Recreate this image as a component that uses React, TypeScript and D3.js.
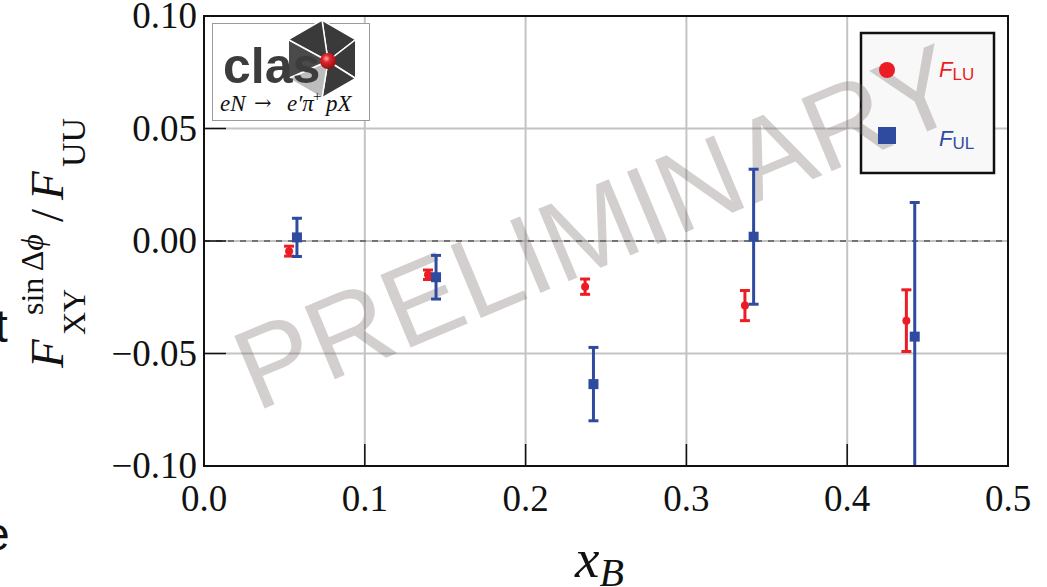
import React from "react";
import * as d3 from "d3";

const xTicks = [0.0, 0.1, 0.2, 0.3, 0.4, 0.5];
const yTicks = [-0.1, -0.05, 0.0, 0.05, 0.1];
const xTickLabels = ["0.0", "0.1", "0.2", "0.3", "0.4", "0.5"];
const yTickLabels = ["\u22120.10", "\u22120.05", "0.00", "0.05", "0.10"];

// F_LU (red circles)
const xLU = [0.0529, 0.1393, 0.237, 0.3364, 0.4368];
const yLU = [-0.0045, -0.015, -0.0203, -0.0287, -0.0354];
const eLU = [0.0022, 0.0021, 0.0034, 0.0067, 0.0137];

// F_UL (blue squares)
const xUL = [0.0578, 0.1443, 0.2422, 0.3418, 0.442];
const yUL = [0.0016, -0.0161, -0.0636, 0.0019, -0.0425];
const eUL = [0.0085, 0.0097, 0.0163, 0.03, 0.0596];

const RED = "#ec1c24";
const BLUE = "#2e4b9f";

const L = 204, R = 1008, T = 16, B = 466;

export default function App() {
  const x = d3.scaleLinear().domain([0, 0.5]).range([L, R]);
  const y = d3.scaleLinear().domain([-0.1, 0.1]).range([B, T]);
  const serif = "'Liberation Serif', 'DejaVu Serif', serif";
  const sans = "'Liberation Sans', Arial, sans-serif";

  // hexagon logo
  const hc = [322, 59];
  const hr = 39;
  const verts = d3.range(6).map((i) => {
    const a = ((-90 + 60 * i) * Math.PI) / 180;
    return [hc[0] + hr * Math.cos(a), hc[1] + hr * Math.sin(a)];
  });
  const ball = [328, 61];
  const sectorColors = ["#3a3a3a", "#3a3a3a", "#3a3a3a", "#bdbdbd", "#4a4a4a", "#3a3a3a"];

  const luData = xLU.map((v, i) => ({ x: v, y: yLU[i], e: eLU[i] }));
  const ulData = xUL.map((v, i) => ({ x: v, y: yUL[i], e: eUL[i] }));

  return (
    <svg
      width={1047}
      height={587}
      style={{ position: "absolute", left: 0, top: 0, background: "#fff" }}
    >
      <defs>
        <clipPath id="plotclip">
          <rect x={L} y={T} width={R - L} height={B - T} />
        </clipPath>
        <radialGradient id="ballg" cx="0.4" cy="0.35" r="0.65">
          <stop offset="0" stopColor="#ffb0b0" />
          <stop offset="0.35" stopColor="#e3262b" />
          <stop offset="1" stopColor="#8e1014" />
        </radialGradient>
      </defs>
      <rect x={0} y={0} width={1047} height={587} fill="#fff" />

      {/* grid */}
      {xTicks.slice(1, -1).map((t) => (
        <line key={"gx" + t} x1={x(t)} x2={x(t)} y1={T} y2={B} stroke="#c4c4c4" strokeWidth={2} />
      ))}
      {yTicks.slice(1, -1).map((t) => (
        <line key={"gy" + t} x1={L} x2={R} y1={y(t)} y2={y(t)} stroke="#c4c4c4" strokeWidth={2} />
      ))}
      <line x1={L} x2={R} y1={y(0)} y2={y(0)} stroke="#222" strokeWidth={1.2} strokeDasharray="6,6" />

      {/* ticks */}
      {xTicks.map((t) => (
        <line key={"tx" + t} x1={x(t)} x2={x(t)} y1={B} y2={B - 22} stroke="#111" strokeWidth={1.5} />
      ))}
      {yTicks.map((t) => (
        <line key={"ty" + t} x1={L} x2={L + 22} y1={y(t)} y2={y(t)} stroke="#111" strokeWidth={1.5} />
      ))}

      {/* logo */}
      <rect x={212.5} y={23.5} width={157} height={97} fill="#fff" stroke="#9a9a9a" strokeWidth={1} />
      {verts.map((v, i) => {
        const w = verts[(i + 1) % 6];
        return (
          <path
            key={"hs" + i}
            d={`M${ball[0]},${ball[1]}L${v[0]},${v[1]}L${w[0]},${w[1]}Z`}
            fill={sectorColors[i]}
            stroke="#fff"
            strokeWidth={1.5}
          />
        );
      })}
      <text x={223} y={83} fontFamily={sans} fontWeight="bold" fontSize={50} fill="#3c3c3c">
        clas
      </text>
      <circle cx={ball[0]} cy={ball[1]} r={8} fill="url(#ballg)" />
      <g fontFamily={serif} fontSize={23} fill="#111">
        <text x={220} y={111} fontStyle="italic">eN</text>
        <text x={254} y={110} fontFamily="'DejaVu Serif', serif" fontSize={21}>{"\u2192"}</text>
        <text x={287} y={111} fontStyle="italic">e{"\u2032"}{"\u03C0"}</text>
        <text x={313} y={101} fontSize={15}>+</text>
        <text x={326} y={111} fontStyle="italic">pX</text>
      </g>

      {/* legend box */}
      <rect x={861} y={33} width={133} height={140} fill="#f8f8f8" stroke="#111" strokeWidth={2.5} />

      {/* watermark */}
      <text
        x={0}
        y={0}
        transform="translate(256,412) rotate(-22.7)"
        fontFamily={sans}
        fontSize={114}
        fill="rgb(120,110,110)"
        fillOpacity={0.33}
      >
        PRELIMINARY
      </text>

      {/* legend contents */}
      <circle cx={887} cy={70} r={8} fill={RED} />
      <text x={939} y={77} fontFamily={sans} fill={RED}>
        <tspan fontStyle="italic" fontSize={22}>F</tspan>
        <tspan fontSize={17} dy={3}>LU</tspan>
      </text>
      <rect x={878} y={127} width={18} height={17} fill={BLUE} />
      <text x={939} y={146} fontFamily={sans} fill={BLUE}>
        <tspan fontStyle="italic" fontSize={22}>F</tspan>
        <tspan fontSize={17} dy={3}>UL</tspan>
      </text>

      {/* data */}
      <g clipPath="url(#plotclip)">
        {luData.map((d, i) => (
          <g key={"lu" + i}>
            <line x1={x(d.x)} x2={x(d.x)} y1={y(d.y - d.e)} y2={y(d.y + d.e)} stroke={RED} strokeWidth={3} />
            <line x1={x(d.x) - 5} x2={x(d.x) + 5} y1={y(d.y - d.e)} y2={y(d.y - d.e)} stroke={RED} strokeWidth={3} />
            <line x1={x(d.x) - 5} x2={x(d.x) + 5} y1={y(d.y + d.e)} y2={y(d.y + d.e)} stroke={RED} strokeWidth={3} />
            <circle cx={x(d.x)} cy={y(d.y)} r={4} fill={RED} />
          </g>
        ))}
        {ulData.map((d, i) => (
          <g key={"ul" + i}>
            <line x1={x(d.x)} x2={x(d.x)} y1={y(d.y - d.e)} y2={y(d.y + d.e)} stroke={BLUE} strokeWidth={3} />
            <line x1={x(d.x) - 5} x2={x(d.x) + 5} y1={y(d.y - d.e)} y2={y(d.y - d.e)} stroke={BLUE} strokeWidth={3} />
            <line x1={x(d.x) - 5} x2={x(d.x) + 5} y1={y(d.y + d.e)} y2={y(d.y + d.e)} stroke={BLUE} strokeWidth={3} />
            <rect x={x(d.x) - 5} y={y(d.y) - 5} width={10} height={10} fill={BLUE} />
          </g>
        ))}
      </g>

      {/* frame */}
      <rect x={L} y={T} width={R - L} height={B - T} fill="none" stroke="#111" strokeWidth={2} />

      {/* tick labels */}
      {xTicks.map((t, i) => (
        <text key={"xl" + t} x={x(t)} y={511} textAnchor="middle" fontFamily={serif} fontSize={37} fill="#111">
          {xTickLabels[i]}
        </text>
      ))}
      {yTicks.map((t, i) => (
        <text key={"yl" + t} x={197} y={y(t) + 12} textAnchor="end" fontFamily={serif} fontSize={37} fill="#111">
          {yTickLabels[i]}
        </text>
      ))}

      {/* x label */}
      <text x={575} y={577} fontFamily={serif} fill="#111">
        <tspan fontStyle="italic" fontSize={55}>x</tspan>
        <tspan fontStyle="italic" fontSize={40} dy={9}>B</tspan>
      </text>

      {/* y label */}
      <g transform="translate(63,368) rotate(-90)" fontFamily={serif} fill="#111">
        <text x={0} y={0} fontStyle="italic" fontSize={47}>F</text>
        <text x={33} y={22} fontSize={32}>XY</text>
        <text x={53} y={-20} fontSize={32}>
          sin{"\u2009"}{"\u0394"}<tspan fontStyle="italic">{"\u03D5"}</tspan>
        </text>
        <text x={146} y={0} fontSize={47}>/</text>
        <text x={168} y={0} fontStyle="italic" fontSize={47}>F</text>
        <text x={201} y={22} fontSize={34}>UU</text>
      </g>

      {/* fragments of neighbouring text */}
      <text x={-5} y={342} fontFamily={sans} fontSize={46} fill="#111">t</text>
      <text x={-16} y={550} fontFamily={sans} fontSize={46} fill="#111">e</text>
    </svg>
  );
}
